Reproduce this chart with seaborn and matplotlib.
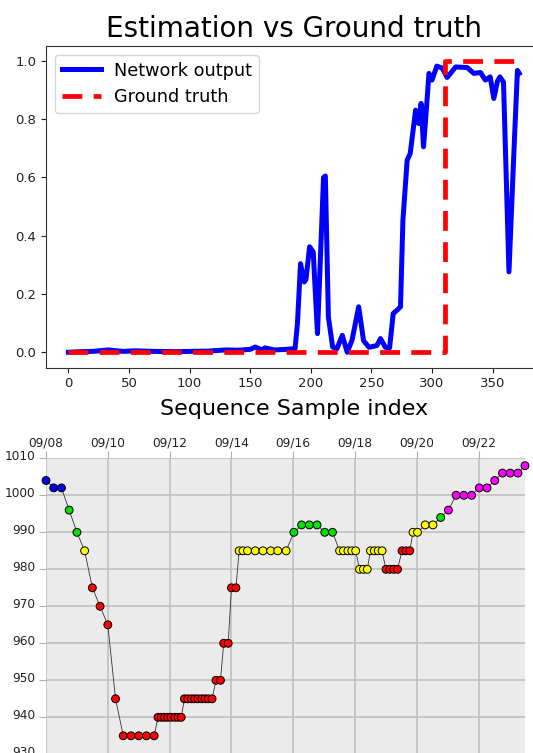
import matplotlib
matplotlib.use("Agg")
import matplotlib.pyplot as plt
import matplotlib.transforms as mtransforms
import seaborn as sns
import pandas as pd

# ---------------- top chart data ----------------
net_idx = [0, 10, 20, 33, 45, 55, 70, 90, 100, 115, 130, 140, 150, 154, 160, 162, 170,
           180, 187, 189, 191.5, 194.5, 196, 199, 202, 205.5, 210.5, 212, 214.5, 218,
           221.5, 226, 230, 234, 239.5, 243.5, 248, 254.5, 257.5, 261.5, 265, 268, 271,
           274, 276, 279.5, 282, 286.5, 289, 291, 293, 294.5, 297.5, 300, 304, 308.5,
           312.5, 319.5, 329, 334.5, 340, 344, 348, 351, 354, 356, 359, 363.5, 368,
           370.5, 372]
net_val = [0.0, 0.002, 0.003, 0.008, 0.003, 0.005, 0.003, 0.002, 0.003, 0.004, 0.008,
           0.007, 0.01, 0.018, 0.008, 0.015, 0.008, 0.01, 0.013, 0.1, 0.304, 0.241,
           0.25, 0.362, 0.344, 0.064, 0.6, 0.605, 0.121, 0.018, 0.012, 0.058, 0.0,
           0.041, 0.156, 0.04, 0.017, 0.023, 0.047, 0.017, 0.015, 0.133, 0.144, 0.156,
           0.453, 0.659, 0.682, 0.831, 0.785, 0.854, 0.705, 0.785, 0.957, 0.934, 0.982,
           0.975, 0.943, 0.979, 0.977, 0.957, 0.96, 0.934, 0.945, 0.871, 0.93, 0.945,
           0.927, 0.276, 0.728, 0.967, 0.957]
gt_idx = [0, 311, 311, 372]
gt_val = [0, 0, 1, 1]
top_xticks = [0, 50, 100, 150, 200, 250, 300, 350]
top_yticks = [0.0, 0.2, 0.4, 0.6, 0.8, 1.0]

# ---------------- bottom chart data ----------------
hours = [0, 6, 12, 18, 24, 30, 36, 42, 48, 54, 60, 66, 72, 78, 84,
         87, 89.5, 92, 94.5, 97, 100, 102.5, 105,
         107.5, 110, 113, 115.5, 118, 121, 123.5, 126, 129,
         132, 135.5, 138, 141.5, 144, 147.5,
         150, 153, 156.5, 162.5, 168.5, 174.5, 180, 186.5,
         192.5, 198.5, 204.5, 210.5, 216.5, 222.5,
         228, 231, 234.5, 237.5, 240.5, 243.5, 246.5, 249.5, 252, 255, 258, 261,
         264, 267, 270, 273, 276.5, 279.5, 282.5,
         285, 288.5, 294.5, 300.5,
         306.5,
         312.5, 318.5, 324.5, 330.5, 336.5, 342.5, 348.5, 354.5, 360.5, 366.5, 372]
pressure = [1004, 1002, 1002, 996, 990, 985, 975, 970, 965, 945, 935, 935, 935, 935, 935,
            940, 940, 940, 940, 940, 940, 940, 940,
            945, 945, 945, 945, 945, 945, 945, 945, 945,
            950, 950, 960, 960, 975, 975,
            985, 985, 985, 985, 985, 985, 985, 985,
            990, 992, 992, 992, 990, 990,
            985, 985, 985, 985, 985, 980, 980, 980, 985, 985, 985, 985,
            980, 980, 980, 980, 985, 985, 985,
            990, 990, 992, 992,
            994,
            996, 1000, 1000, 1000, 1002, 1002, 1004, 1006, 1006, 1006, 1008]
grade = (["blue"] * 3 + ["green"] * 2 + ["yellow"] + ["red"] * 9 + ["red"] * 8 +
         ["red"] * 9 + ["red"] * 6 + ["yellow"] * 8 + ["green"] * 6 + ["yellow"] * 12 +
         ["red"] * 7 + ["yellow"] * 4 + ["green"] + ["magenta"] * 11)
grade_colors = {"blue": "#0000ee", "green": "#00e000", "yellow": "#ffff00",
                "red": "#ff0000", "magenta": "#ff00ff"}
date_ticks = [0, 48, 96, 144, 192, 240, 288, 336]
date_labels = ["09/08", "09/10", "09/12", "09/14", "09/16", "09/18", "09/20", "09/22"]
p_ticks = [930, 940, 950, 960, 970, 980, 990, 1000, 1010]

W, H = 533, 753
fig = plt.figure(figsize=(W / 100, H / 100), dpi=100)
plt.rcParams['font.family'] = ['DejaVu Sans']

# ---------------- top axes ----------------
ax1 = fig.add_axes([45.9 / W, 1 - 367.7 / H, (541.8 - 45.9) / W, (367.7 - 45.7) / H])
df_net = pd.DataFrame({"idx": net_idx, "val": net_val})
df_gt = pd.DataFrame({"idx": gt_idx, "val": gt_val})
sns.lineplot(data=df_net, x="idx", y="val", estimator=None, sort=False, ax=ax1,
             color="#0000ff", lw=3.6, label="Network output")
sns.lineplot(data=df_gt, x="idx", y="val", estimator=None, sort=False, ax=ax1,
             color="#ff0000", lw=3.4, linestyle=(0, (4.2, 2.4)), label="Ground truth")
ax1.set_xlim(-18.6, 390.6)
ax1.set_ylim(-0.053, 1.052)
ax1.set_xticks(top_xticks)
ax1.set_yticks(top_yticks)
ax1.set_yticklabels([f"{v:.1f}" for v in top_yticks])
ax1.tick_params(labelsize=9.5, length=3.5, colors="#222222")
ax1.set_title("Estimation vs Ground truth", fontsize=20, pad=6)
ax1.set_xlabel("Sequence Sample index", fontsize=16, labelpad=6)
ax1.set_ylabel("")
for s in ax1.spines.values():
    s.set_color("#333333")
leg = ax1.legend(loc="upper left", fontsize=12.7, handlelength=2.25, handletextpad=0.7,
                 borderaxespad=0.5, frameon=True)

# ---------------- bottom axes ----------------
ax2 = fig.add_axes([46 / W, 1 - 754.3 / H, (525 - 46) / W, (754.3 - 458.3) / H])
ax2.set_facecolor("#ebebeb")
df_p = pd.DataFrame({"hour": hours, "pressure": pressure, "grade": grade})
sns.lineplot(data=df_p, x="hour", y="pressure", estimator=None, sort=False, ax=ax2,
             color="#333333", lw=0.6, zorder=2)
sns.scatterplot(data=df_p, x="hour", y="pressure", hue="grade", palette=grade_colors,
                s=32, edgecolor="black", linewidth=0.7, legend=False, ax=ax2,
                zorder=3, clip_on=False)
ax2.set_xlim(0, 372)
ax2.set_ylim(930, 1010)
ax2.set_xticks(date_ticks)
ax2.set_xticklabels(date_labels)
ax2.set_yticks(p_ticks)
ax2.set_yticklabels([str(v) for v in p_ticks])
ax2.xaxis.tick_top()
ax2.xaxis.set_label_position("top")
ax2.set_xlabel("")
ax2.set_ylabel("")
for s in ax2.spines.values():
    s.set_visible(False)
ax2.grid(True, color="#bdbdbd", lw=1.1)
ax2.set_axisbelow(True)
ax2.tick_params(axis="both", colors="#b0b0b0", labelcolor="#222222", length=5,
                width=0.8, labelsize=8.7)
ax2.tick_params(axis="x", pad=1.5)
ax2.tick_params(axis="y", pad=2.6)
off = mtransforms.ScaledTranslation(0, 3.5 / 100, fig.dpi_scale_trans)
for lab in ax2.get_yticklabels():
    lab.set_transform(lab.get_transform() + off)

fig.savefig("out.png", dpi=100)
